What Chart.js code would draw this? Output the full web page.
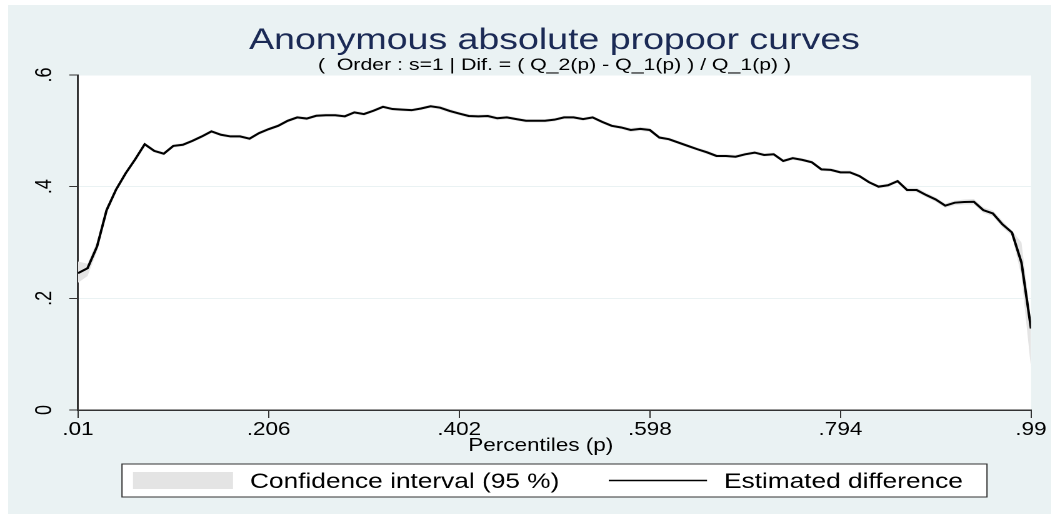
<!DOCTYPE html>
<html>
<head>
<meta charset="utf-8">
<script src="https://cdn.jsdelivr.net/npm/chart.js@4.4.1/dist/chart.umd.min.js"></script>
<style>
html, body { margin: 0; padding: 0; background: #fff; width: 1051px; height: 519px; overflow: hidden; }
#graphRegion { position: absolute; left: 8px; top: 5px; width: 1043px; height: 509px; background: #eaf2f3; }
#stretch { position: absolute; left: 0; top: 0; width: 841px; height: 519px; transform: scaleX(1.25); transform-origin: 0 0; }
</style>
</head>
<body>
<div id="graphRegion"></div>
<div id="stretch"><canvas id="propoorChart" width="841" height="519"></canvas></div>
<script>
const FONT = '"Liberation Sans", Arial, sans-serif';

const chartTitle = 'Anonymous absolute propoor curves';
const chartSubtitle = '(  Order : s=1 | Dif. = ( Q_2(p) - Q_1(p) ) / Q_1(p) )';
const xAxisTitle = 'Percentiles (p)';
const ciLabel = 'Confidence interval (95 %)';
const estLabel = 'Estimated difference';

const xTickValues = [0.01, 0.206, 0.402, 0.598, 0.794, 0.99];
const yTickValues = [0, 0.2, 0.4, 0.6];

// percentiles p (101 points from .01 to .99)
const percentiles = [
	0.0100, 0.0198, 0.0296, 0.0394, 0.0492, 0.0590, 0.0688, 0.0786, 0.0884, 0.0982,
	0.1080, 0.1178, 0.1276, 0.1374, 0.1472, 0.1570, 0.1668, 0.1766, 0.1864, 0.1962,
	0.2060, 0.2158, 0.2256, 0.2354, 0.2452, 0.2550, 0.2648, 0.2746, 0.2844, 0.2942,
	0.3040, 0.3138, 0.3236, 0.3334, 0.3432, 0.3530, 0.3628, 0.3726, 0.3824, 0.3922,
	0.4020, 0.4118, 0.4216, 0.4314, 0.4412, 0.4510, 0.4608, 0.4706, 0.4804, 0.4902,
	0.5000, 0.5098, 0.5196, 0.5294, 0.5392, 0.5490, 0.5588, 0.5686, 0.5784, 0.5882,
	0.5980, 0.6078, 0.6176, 0.6274, 0.6372, 0.6470, 0.6568, 0.6666, 0.6764, 0.6862,
	0.6960, 0.7058, 0.7156, 0.7254, 0.7352, 0.7450, 0.7548, 0.7646, 0.7744, 0.7842,
	0.7940, 0.8038, 0.8136, 0.8234, 0.8332, 0.8430, 0.8528, 0.8626, 0.8724, 0.8822,
	0.8920, 0.9018, 0.9116, 0.9214, 0.9312, 0.9410, 0.9508, 0.9606, 0.9704, 0.9802,
	0.9900
];

const estimatedDiff = [
	0.245, 0.254, 0.293, 0.358, 0.395, 0.424, 0.449, 0.476, 0.464, 0.459,
	0.473, 0.475, 0.482, 0.490, 0.499, 0.493, 0.490, 0.490, 0.486, 0.496,
	0.503, 0.509, 0.518, 0.524, 0.522, 0.527, 0.528, 0.528, 0.526, 0.533,
	0.530, 0.536, 0.543, 0.539, 0.538, 0.537, 0.540, 0.544, 0.5415, 0.5356,
	0.531, 0.5266, 0.526, 0.5266, 0.5225, 0.524, 0.521, 0.518, 0.518, 0.518,
	0.520, 0.524, 0.524, 0.521, 0.524, 0.516, 0.509, 0.506, 0.5015, 0.5035,
	0.5015, 0.488, 0.485, 0.479, 0.473, 0.467, 0.4615, 0.455, 0.455, 0.4537,
	0.458, 0.461, 0.4567, 0.458, 0.446, 0.451, 0.448, 0.4437, 0.431, 0.430,
	0.4257, 0.4257, 0.419, 0.408, 0.400, 0.4025, 0.410, 0.394, 0.394, 0.385,
	0.377, 0.366, 0.3713, 0.3725, 0.373, 0.358, 0.352, 0.3326, 0.318, 0.264,
	0.146
];

const ciHigh = [
	0.266, 0.262, 0.302, 0.364, 0.399, 0.427, 0.452, 0.479, 0.467, 0.462,
	0.476, 0.478, 0.485, 0.493, 0.502, 0.496, 0.493, 0.493, 0.489, 0.499,
	0.506, 0.512, 0.521, 0.527, 0.525, 0.530, 0.531, 0.531, 0.529, 0.536,
	0.533, 0.539, 0.546, 0.542, 0.541, 0.540, 0.543, 0.547, 0.545, 0.539,
	0.534, 0.530, 0.529, 0.530, 0.526, 0.527, 0.524, 0.521, 0.521, 0.521,
	0.523, 0.527, 0.527, 0.524, 0.527, 0.519, 0.512, 0.509, 0.505, 0.507,
	0.505, 0.491, 0.488, 0.482, 0.476, 0.470, 0.465, 0.458, 0.458, 0.457,
	0.461, 0.464, 0.460, 0.461, 0.449, 0.454, 0.451, 0.447, 0.434, 0.433,
	0.429, 0.429, 0.422, 0.411, 0.403, 0.406, 0.413, 0.398, 0.398, 0.389,
	0.381, 0.370, 0.375, 0.377, 0.378, 0.363, 0.357, 0.339, 0.321, 0.300,
	0.160
];

const ciLow = [
	0.228, 0.240, 0.284, 0.352, 0.391, 0.421, 0.446, 0.473, 0.461, 0.456,
	0.470, 0.472, 0.479, 0.487, 0.496, 0.490, 0.487, 0.487, 0.483, 0.493,
	0.500, 0.506, 0.515, 0.521, 0.519, 0.524, 0.525, 0.525, 0.523, 0.530,
	0.527, 0.533, 0.540, 0.536, 0.535, 0.534, 0.537, 0.541, 0.538, 0.532,
	0.528, 0.523, 0.523, 0.523, 0.519, 0.521, 0.518, 0.515, 0.515, 0.515,
	0.517, 0.521, 0.521, 0.518, 0.521, 0.513, 0.506, 0.503, 0.498, 0.500,
	0.498, 0.485, 0.482, 0.476, 0.470, 0.464, 0.458, 0.452, 0.452, 0.451,
	0.455, 0.458, 0.454, 0.455, 0.443, 0.448, 0.445, 0.441, 0.428, 0.427,
	0.423, 0.423, 0.416, 0.405, 0.397, 0.399, 0.407, 0.390, 0.390, 0.381,
	0.373, 0.362, 0.367, 0.368, 0.368, 0.353, 0.347, 0.327, 0.312, 0.240,
	0.075
];

const CI_COLOR = '#e4e4e4';
const AXIS_COLOR = '#333';

function toPoints(values) {
	return values.map((v, i) => ({ x: percentiles[i], y: v }));
}

function stataLabel(value) {
	// Stata drops the leading zero: .206, .4
	return value === 0 ? '0' : String(+value.toFixed(3)).replace(/^0\./, '.');
}

// white plot region, titles and Stata-style legend box
const stataFrame = {
	id: 'stataFrame',
	beforeDraw(chart) {
		const { ctx, chartArea: a } = chart;
		ctx.save();
		ctx.fillStyle = '#fff';
		ctx.fillRect(a.left, a.top, a.right - a.left, a.bottom - a.top);
		ctx.restore();
	},
	afterDraw(chart) {
		const { ctx, chartArea: a } = chart;
		const cx = (a.left + a.right) / 2;
		ctx.save();
		ctx.textAlign = 'center';
		ctx.textBaseline = 'alphabetic';
		ctx.fillStyle = '#1b2a55';
		ctx.font = `30px ${FONT}`;
		ctx.fillText(chartTitle, cx, 49);
		ctx.fillStyle = '#000';
		ctx.font = `17px ${FONT}`;
		ctx.fillText(chartSubtitle, cx, 70);
		ctx.font = `18px ${FONT}`;
		ctx.fillText(xAxisTitle, cx - 11, 451);

		// legend
		const est = chart.data.datasets[0];
		const ci = chart.data.datasets[2];
		ctx.fillStyle = '#fff';
		ctx.fillRect(97.6, 464, 692, 33);
		ctx.strokeStyle = AXIS_COLOR;
		ctx.lineWidth = 1;
		ctx.strokeRect(97.6, 464, 692, 33);
		ctx.fillStyle = ci.backgroundColor;
		ctx.fillRect(106.4, 472, 80, 17);
		ctx.strokeStyle = est.borderColor;
		ctx.lineWidth = 1.5;
		ctx.beginPath();
		ctx.moveTo(487, 480.5);
		ctx.lineTo(565.6, 480.5);
		ctx.stroke();
		ctx.fillStyle = '#000';
		ctx.textAlign = 'left';
		ctx.font = `21px ${FONT}`;
		ctx.fillText(ci.label, 200, 488);
		ctx.fillText(est.label, 579.2, 488);
		ctx.restore();
	}
};

const ctx = document.getElementById('propoorChart').getContext('2d');
const propoorChart = new Chart(ctx, {
	type: 'line',
	data: {
		datasets: [
			{
				label: estLabel,
				data: toPoints(estimatedDiff),
				borderColor: '#000',
				borderWidth: 2,
				pointRadius: 0,
				tension: 0,
				fill: false
			},
			{
				label: 'ci_low',
				data: toPoints(ciLow),
				borderColor: 'transparent',
				borderWidth: 1,
				pointRadius: 0,
				fill: false
			},
			{
				label: ciLabel,
				data: toPoints(ciHigh),
				borderColor: 'transparent',
				borderWidth: 1,
				pointRadius: 0,
				backgroundColor: CI_COLOR,
				fill: '-1'
			}
		]
	},
	options: {
		responsive: false,
		animation: false,
		devicePixelRatio: 2,
		layout: { padding: { left: 0, right: 16.2, top: 75, bottom: 0 } },
		plugins: {
			legend: { display: false },
			tooltip: { enabled: false },
			title: { display: false }
		},
		scales: {
			x: {
				type: 'linear',
				min: 0.01,
				max: 0.99,
				afterBuildTicks: s => { s.ticks = xTickValues.map(v => ({ value: v })); },
				afterFit: s => { s.height = 109; },
				ticks: {
					autoSkip: false,
					maxRotation: 0,
					padding: 1,
					color: '#000',
					font: { family: FONT, size: 18 },
					callback: v => stataLabel(v)
				},
				grid: { drawOnChartArea: false, drawTicks: true, tickLength: 8, tickColor: AXIS_COLOR, lineWidth: 1 },
				border: { color: AXIS_COLOR, width: 1.5 }
			},
			y: {
				min: 0,
				max: 0.6,
				afterBuildTicks: s => { s.ticks = yTickValues.map(v => ({ value: v })); },
				afterFit: s => { s.width = 62.4; },
				ticks: {
					minRotation: 90,
					maxRotation: 90,
					crossAlign: 'center',
					padding: 12,
					color: '#000',
					font: { family: FONT, size: 18 },
					callback: v => stataLabel(v)
				},
				grid: { color: '#eaf2f3', lineWidth: 1, drawTicks: true, tickLength: 7, tickColor: AXIS_COLOR },
				border: { color: AXIS_COLOR, width: 1.5 }
			}
		}
	},
	plugins: [stataFrame]
});
</script>
</body>
</html>
